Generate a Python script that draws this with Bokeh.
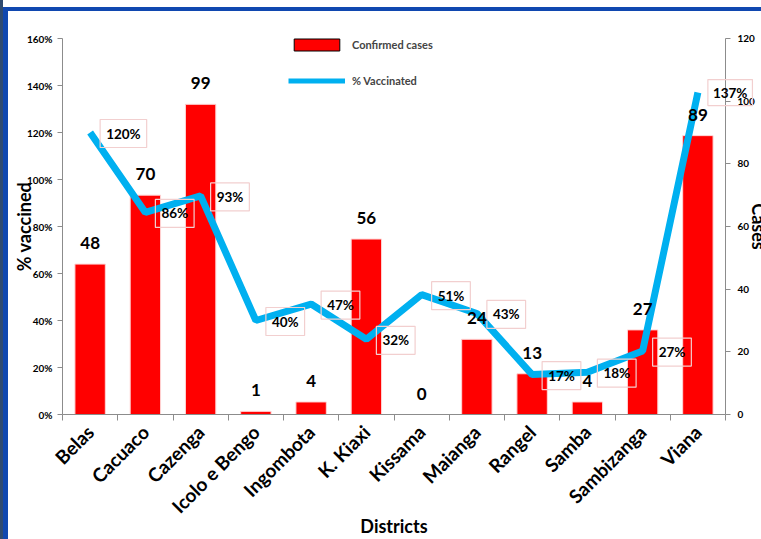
import math
from bokeh.plotting import figure
from bokeh.models import (Range1d, LinearAxis, FixedTicker, PrintfTickFormatter,
                          Legend, LegendItem, Label, Div, Title)
from bokeh.layouts import row, column
from bokeh.core.properties import value
from bokeh.embed import file_html
from bokeh.resources import INLINE

# ---------------- data ----------------
districts = ["Belas", "Cacuaco", "Cazenga", "Icolo e Bengo", "Ingombota", "K. Kiaxi",
             "Kissama", "Maianga", "Rangel", "Samba", "Sambizanga", "Viana"]
confirmed_cases = [48, 70, 99, 1, 4, 56, 0, 24, 13, 4, 27, 89]
pct_vaccinated = [120, 86, 93, 40, 47, 32, 51, 43, 17, 18, 27, 137]
pct_ticks = [0, 20, 40, 60, 80, 100, 120, 140, 160]
case_ticks = [0, 20, 40, 60, 80, 100, 120]

n = len(districts)
xpos = [i + 0.5 for i in range(n)]          # category centres
xedges = list(range(n + 1))                  # category boundaries (tick marks)

FONT = "Lato"
PW, PH = 753, 528   # figure size (left/top decoration strips take the rest of 761x539)

p = figure(width=PW, height=PH, x_range=Range1d(0, n), y_range=Range1d(0, 160),
           x_axis_location=None, y_axis_location=None,
           output_backend="svg", toolbar_location=None,
           min_border_left=54, min_border_right=34, min_border_top=27, min_border_bottom=124)
p.outline_line_color = None
p.background_fill_color = "white"
p.border_fill_color = "white"
p.grid.visible = False
p.title.visible = False
p.extra_y_ranges = {"cases": Range1d(0, 120)}

AX = "#8c8c8c"

def style_axis(ax, size="10px"):
    ax.axis_line_color = AX
    ax.major_tick_line_color = AX
    ax.minor_tick_line_color = None
    ax.major_tick_in = 0
    ax.major_tick_out = 5
    ax.major_label_text_font = FONT
    ax.major_label_text_font_style = "bold"
    ax.major_label_text_font_size = size
    ax.major_label_text_color = "black"
    ax.axis_label_text_font = FONT
    ax.axis_label_text_font_style = "bold"
    ax.axis_label_text_color = "black"

yl = LinearAxis(ticker=FixedTicker(ticks=pct_ticks), formatter=PrintfTickFormatter(format="%d%%"),
                axis_label="% vaccined")
style_axis(yl)
yl.major_label_standoff = 5
yl.axis_label_text_font_size = "18px"
yl.axis_label_standoff = -11
p.add_layout(yl, "left")

yr = LinearAxis(y_range_name="cases", ticker=FixedTicker(ticks=case_ticks))
style_axis(yr)
yr.major_label_standoff = 7
p.add_layout(yr, "right")

xa = LinearAxis(ticker=FixedTicker(ticks=xpos, minor_ticks=xedges),
                major_label_overrides={x: d for x, d in zip(xpos, districts)},
                axis_label="Districts")
style_axis(xa, "19px")
xa.major_tick_line_color = None
xa.minor_tick_line_color = AX
xa.minor_tick_in = 0
xa.minor_tick_out = 6
xa.major_label_orientation = math.pi / 4
xa.major_label_standoff = 8
xa.axis_label_text_font_size = "18px"
xa.axis_label_standoff = -14
p.add_layout(xa, "below")

# ---------------- glyphs ----------------
p.vbar(x=xpos, top=confirmed_cases, width=0.55, y_range_name="cases",
       fill_color="#ff0000", line_color="#ffd6d6", line_width=1)
p.line(x=xpos, y=pct_vaccinated, line_color="#00b0f0", line_width=7)

PCT_STYLE = dict(text_font_style="bold", text_font_size="13.5px", text_color="black",
                 border_line_color="#f2cfcf", border_line_width=1.2)

# percentage labels inside the plot area (the last one spills over the right axis,
# so it is drawn as an unclipped annotation in a side panel below)
p.text(x=xpos[:-1], y=pct_vaccinated[:-1], text=[f"{v}%" for v in pct_vaccinated[:-1]],
       x_offset=10, y_offset=1, text_align="left", text_baseline="middle",
       text_font=value(FONT), padding=6, **PCT_STYLE)

try:
    last_lab = Label(x=xpos[-1], y=pct_vaccinated[-1], text=f"{pct_vaccinated[-1]}%",
                     x_offset=10, text_align="left", text_baseline="middle",
                     text_font=FONT, padding=5, **PCT_STYLE)
except Exception:
    last_lab = Label(x=xpos[-1], y=pct_vaccinated[-1], text=f"{pct_vaccinated[-1]}%",
                     x_offset=10, text_align="left", text_baseline="middle",
                     text_font=FONT, **PCT_STYLE)
p.add_layout(last_lab, "above")

p.text(x=xpos, y=confirmed_cases, text=[str(c) for c in confirmed_cases],
       y_range_name="cases", y_offset=-21, text_align="center", text_baseline="middle",
       text_font=value(FONT), text_font_style="bold", text_font_size="17px", text_color="black")

# ---------------- legend (proxy renderers carry only a NaN row) ----------------
nan = float("nan")
leg_bar = p.vbar(x=[nan], top=[nan], width=0.5, fill_color="#ff0000", line_color="black", line_width=1)
leg_line = p.line(x=[nan], y=[nan], line_color="#00b0f0", line_width=5)
legend = Legend(items=[LegendItem(label="Confirmed cases", renderers=[leg_bar]),
                       LegendItem(label="% Vaccinated", renderers=[leg_line])],
                location=(226, 326), glyph_width=57, glyph_height=15, label_standoff=7,
                spacing=21, padding=0, margin=0, border_line_color=None,
                background_fill_alpha=0, label_text_font=FONT, label_text_font_style="bold",
                label_text_font_size="11px", label_height=15)
p.add_layout(legend)

# ---------------- right title "Cases" (cut by the page edge as in the original) ----------------
try:
    cases_title = Title(text="Cases", align="center", vertical_align="bottom", standoff=-20,
                        text_font=FONT, text_font_style="bold", text_font_size="18px",
                        text_color="black")
    p.add_layout(cases_title, "right")
except Exception:
    p.add_layout(Label(x=0, y=190, x_units="screen", y_units="screen", text="Cases",
                       angle=math.pi / 2, text_align="center", text_baseline="top",
                       text_font=FONT, text_font_style="bold", text_font_size="18px",
                       text_color="black"), "right")

# ---------------- slide frame decoration ----------------
SLATE, BLUE = "#2f4b70", "#1048b0"
def strip(w, h, color):
    return Div(width=w, height=h, margin=0, styles={"background-color": color})

layout = row(
    strip(3, 539, SLATE),
    column(
        strip(758, 7, "white"),
        strip(758, 4, BLUE),
        row(strip(5, PH, BLUE), p, spacing=0),
        spacing=0),
    spacing=0)

open("out.html", "w").write(file_html(layout, INLINE))
